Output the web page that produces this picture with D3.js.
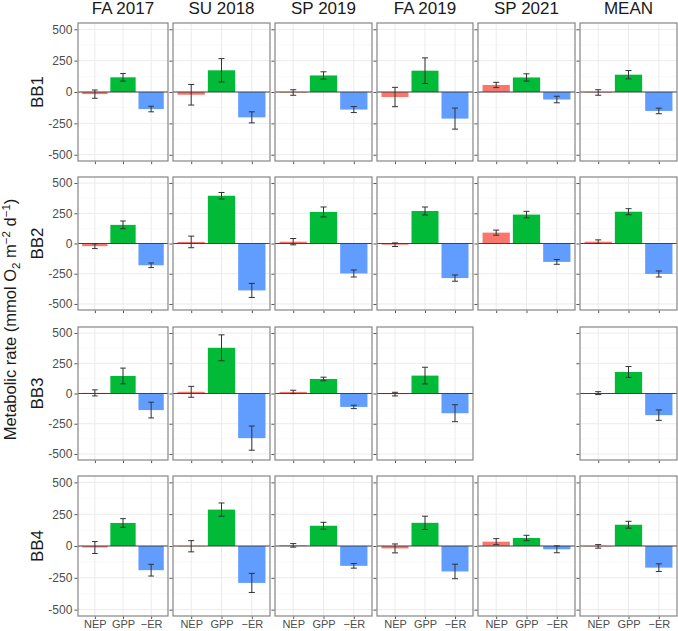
<!DOCTYPE html>
<html>
<head>
<meta charset="utf-8">
<script src="https://cdn.jsdelivr.net/npm/d3@7"></script>
<style>
  body { margin: 0; background: #fff; }
  text { font-family: "Liberation Sans", Arial, sans-serif; }
</style>
</head>
<body>
<div id="chart"></div>
<script>
// Facets
var sites = ["BB1", "BB2", "BB3", "BB4"];
var seasons = ["FA 2017", "SU 2018", "SP 2019", "FA 2019", "SP 2021", "MEAN"];
var metrics = ["NEP", "GPP", "\u2212ER"];
var yTicks = [-500, -250, 0, 250, 500];
var yMinor = [-375, -125, 125, 375];

// One row per site, one column per season (null = no data)
var nepValues = [
  [-17, -22, -4, -40, 56, -4],
  [-22, 13, 15, -10, 90, 15],
  [5, 14, 13, -5, null, 3],
  [-12, -2, 5, -19, 34, -3]
];
var nepErrors = [
  [33, 82, 22, 77, 21, 22],
  [20, 48, 26, 15, 21, 15],
  [25, 45, 14, 15, null, 12],
  [47, 44, 14, 35, 24, 14]
];
var gppValues = [
  [117, 173, 132, 170, 116, 138],
  [154, 395, 261, 269, 239, 263],
  [145, 378, 120, 148, null, 178],
  [181, 286, 159, 182, 63, 167]
];
var gppErrors = [
  [30, 93, 29, 102, 29, 33],
  [32, 27, 41, 33, 27, 25],
  [65, 107, 15, 69, null, 45],
  [34, 52, 27, 52, 21, 27]
];
var erValues = [
  [-136, -202, -140, -212, -60, -151],
  [-180, -388, -248, -286, -152, -252],
  [-137, -369, -111, -163, null, -179],
  [-190, -290, -156, -200, -26, -170]
];
var erErrors = [
  [22, 44, 24, 84, 26, 22],
  [19, 58, 29, 26, 20, 25],
  [65, 100, 14, 70, null, 43],
  [46, 75, 18, 57, 27, 30]
];

var colors = { "NEP": "#F8766D", "GPP": "#00BA38", "\u2212ER": "#619CFF" };

// Panel placement
var colLeft = [78, 173, 275, 377, 478, 580],
    colRight = [168, 270, 372, 473, 575, 677],
    rowTop = [23, 177, 327, 476],
    rowBottom = [161, 310, 460, 616];

var svg = d3.select("#chart")
  .append("svg")
    .attr("width", 678)
    .attr("height", 631);

sites.forEach(function(site, r) {
  seasons.forEach(function(season, c) {
    if (nepValues[r][c] === null) return;

    var data = [
      { m: metrics[0], v: nepValues[r][c], e: nepErrors[r][c] },
      { m: metrics[1], v: gppValues[r][c], e: gppErrors[r][c] },
      { m: metrics[2], v: erValues[r][c], e: erErrors[r][c] }
    ];

    var x = d3.scalePoint()
      .domain(metrics)
      .range([colLeft[c], colRight[c]])
      .padding(0.6);
    var y = d3.scaleLinear()
      .domain([-550, 550])
      .range([rowBottom[r], rowTop[r]]);
    var step = x.step();

    var g = svg.append("g");

    // grid
    g.selectAll(".minor").data(yMinor).enter().append("line")
      .attr("x1", colLeft[c]).attr("x2", colRight[c])
      .attr("y1", function(d) { return y(d); }).attr("y2", function(d) { return y(d); })
      .attr("stroke", "#f3f3f3").attr("stroke-width", 0.6);
    g.selectAll(".major").data(yTicks).enter().append("line")
      .attr("x1", colLeft[c]).attr("x2", colRight[c])
      .attr("y1", function(d) { return y(d); }).attr("y2", function(d) { return y(d); })
      .attr("stroke", "#ebebeb").attr("stroke-width", 1);
    g.selectAll(".vgrid").data(metrics).enter().append("line")
      .attr("x1", function(d) { return x(d); }).attr("x2", function(d) { return x(d); })
      .attr("y1", rowTop[r]).attr("y2", rowBottom[r])
      .attr("stroke", "#ebebeb").attr("stroke-width", 1);

    // bars
    g.selectAll(".bar").data(data).enter().append("rect")
      .attr("x", function(d) { return x(d.m) - step * 0.45; })
      .attr("width", step * 0.9)
      .attr("y", function(d) { return y(Math.max(0, d.v)); })
      .attr("height", function(d) { return Math.abs(y(d.v) - y(0)); })
      .attr("fill", function(d) { return colors[d.m]; });

    // zero line
    g.append("line")
      .attr("x1", colLeft[c]).attr("x2", colRight[c])
      .attr("y1", y(0)).attr("y2", y(0))
      .attr("stroke", "#333").attr("stroke-width", 0.9);

    // error bars
    var eb = g.selectAll(".err").data(data).enter().append("g")
      .attr("stroke", "#333").attr("stroke-width", 1);
    eb.append("line")
      .attr("x1", function(d) { return x(d.m); }).attr("x2", function(d) { return x(d.m); })
      .attr("y1", function(d) { return y(d.v - d.e); }).attr("y2", function(d) { return y(d.v + d.e); });
    eb.append("line")
      .attr("x1", function(d) { return x(d.m) - step * 0.1; }).attr("x2", function(d) { return x(d.m) + step * 0.1; })
      .attr("y1", function(d) { return y(d.v - d.e); }).attr("y2", function(d) { return y(d.v - d.e); });
    eb.append("line")
      .attr("x1", function(d) { return x(d.m) - step * 0.1; }).attr("x2", function(d) { return x(d.m) + step * 0.1; })
      .attr("y1", function(d) { return y(d.v + d.e); }).attr("y2", function(d) { return y(d.v + d.e); });

    // border
    g.append("rect")
      .attr("x", colLeft[c]).attr("y", rowTop[r])
      .attr("width", colRight[c] - colLeft[c]).attr("height", rowBottom[r] - rowTop[r])
      .attr("fill", "none").attr("stroke", "#858585").attr("stroke-width", 1.2);

    // axes
    var ay = g.append("g")
      .attr("transform", "translate(" + (colLeft[c] - 0.6) + ",0)")
      .call(d3.axisLeft(y).tickValues(yTicks).tickSize(3).tickPadding(2)
        .tickFormat(c === 0 ? function(d) { return String(d); } : ""));
    var ax = g.append("g")
      .attr("transform", "translate(0," + (rowBottom[r] + 0.6) + ")")
      .call(d3.axisBottom(x).tickSize(2.5).tickPadding(1)
        .tickFormat(r === sites.length - 1 ? null : ""));
    [ay, ax].forEach(function(a) {
      a.select(".domain").remove();
      a.selectAll("line").attr("stroke", "#555");
      a.selectAll("text").attr("fill", "#4d4d4d")
        .style("font-family", "'Liberation Sans', Arial, sans-serif");
    });
    ay.selectAll("text").attr("font-size", 12);
    ax.selectAll("text").attr("font-size", 11).attr("dy", "0.74em");
  });
});

// column strip labels
svg.selectAll(".colLab").data(seasons).enter().append("text")
  .attr("x", function(d, i) { return (colLeft[i] + colRight[i]) / 2; })
  .attr("y", 14)
  .attr("text-anchor", "middle")
  .attr("font-size", 17)
  .attr("fill", "#1a1a1a")
  .text(function(d) { return d; });

// row strip labels
svg.selectAll(".rowLab").data(sites).enter().append("text")
  .attr("transform", function(d, i) {
    return "translate(43," + (rowTop[i] + rowBottom[i]) / 2 + ") rotate(-90)";
  })
  .attr("text-anchor", "middle")
  .attr("font-size", 17)
  .attr("fill", "#1a1a1a")
  .text(function(d) { return d; });

// y axis title
var title = svg.append("text")
  .attr("transform", "translate(16," + (rowTop[0] + rowBottom[3]) / 2 + ") rotate(-90)")
  .attr("text-anchor", "middle")
  .attr("font-size", 16.5)
  .attr("fill", "#1a1a1a");
title.append("tspan").text("Metabolic rate (mmol O");
title.append("tspan").attr("font-size", 11.5).attr("dy", 4).text("2");
title.append("tspan").attr("dy", -4).text(" m");
title.append("tspan").attr("font-size", 11.5).attr("dy", -6).text("\u22122");
title.append("tspan").attr("dy", 6).text(" d");
title.append("tspan").attr("font-size", 11.5).attr("dy", -6).text("\u22121");
title.append("tspan").attr("dy", 6).text(")");
</script>
</body>
</html>
